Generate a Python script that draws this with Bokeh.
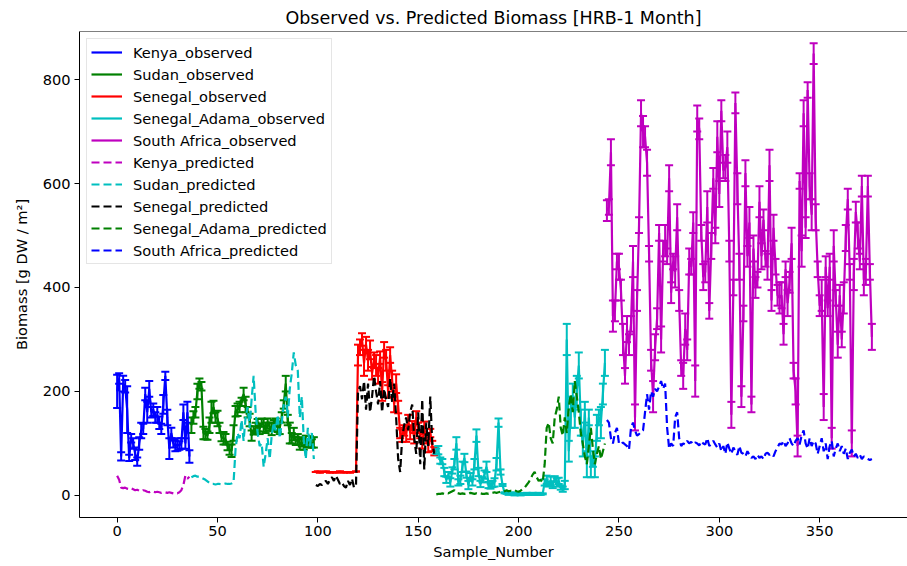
from bokeh.plotting import figure
from bokeh.models import (ColumnDataSource, Whisker, TeeHead, Range1d, FixedTicker,
                          Legend, LegendItem, Span)
from bokeh.embed import file_html
from bokeh.resources import INLINE

# ---------------- data ----------------
title_text = "Observed vs. Predicted Biomass [HRB-1 Month]"
x_label = "Sample_Number"
y_label = "Biomass [g DW / m²]"
x_ticks = [0, 50, 100, 150, 200, 250, 300, 350]
y_ticks = [0, 200, 400, 600, 800]

kenya_start = 0
kenya_obs = [200, 225, 75, 215, 210, 165, 72, 110, 100, 80, 65, 100, 125, 128, 195, 160, 205, 160,
             165, 150, 155, 140, 128, 175, 230, 150, 90, 120, 100, 95, 98, 96, 100, 160, 100, 160, 75]
kenya_err = [32, 10, 8, 15, 12, 45, 6, 8, 10, 12, 8, 12, 15, 10, 12, 20, 15, 10, 12, 10, 15, 12, 10,
             18, 8, 15, 20, 10, 8, 10, 12, 8, 10, 15, 10, 20, 12]
kenya_pred = [38, 30, 15, 14, 15, 13, 12, 14, 12, 10, 11, 9, 8, 10, 9, 7, 6, 8, 7, 6, 7, 6, 5, 6, 6,
              5, 6, 5, 4, 5, 4, 6, 10, 20, 38, 32, 36]

sudan_start = 37
sudan_obs = [135, 150, 160, 200, 215, 210, 120, 118, 115, 135, 160, 170, 150, 148, 130, 112, 110, 108,
             95, 88, 86, 120, 162, 165, 170, 180, 195, 175, 160, 145, 115, 125, 130, 135, 128, 140,
             135, 130, 138, 132, 128, 135, 140, 132, 130, 150, 175, 215, 145, 120, 110, 118, 105,
             108, 100, 102, 98, 105, 100, 104, 100, 102]
sudan_err = [15, 12, 10, 15, 10, 8, 12, 10, 8, 15, 20, 12, 10, 15, 10, 8, 12, 10, 8, 10, 12, 15, 10,
             12, 10, 8, 12, 15, 10, 12, 10, 8, 10, 12, 10, 8, 12, 10, 10, 8, 12, 10, 8, 10, 12, 10,
             8, 15, 10, 20, 10, 12, 8, 10, 12, 8, 10, 10, 8, 10, 8, 10]
sudan_pred = [35, 37, 38, 36, 36, 34, 32, 30, 27, 24, 22, 22, 21, 22, 22, 21, 22, 23, 22, 22, 23, 25,
              90, 120, 110, 145, 105, 150, 170, 130, 185, 230, 160, 120, 95, 100, 55, 80, 110, 70,
              115, 140, 125, 155, 110, 140, 175, 190, 150, 205, 235, 275, 250, 240, 150, 190, 105,
              70, 130, 95, 120, 70]

senegal_start = 99
senegal_obs = [45, 46, 44, 45, 45, 46, 45, 44, 45, 45, 44, 45, 46, 45, 44, 45, 45, 44, 45, 45, 46,
               270, 285, 300, 255, 290, 260, 280, 235, 260, 250, 230, 265, 200, 280, 260, 200, 270,
               220, 175, 215, 170, 120, 115, 125, 118, 145, 120, 135, 110, 150, 130, 118, 100, 130,
               110, 95, 120, 95, 85]
senegal_err = [0, 0, 0, 0, 0, 0, 0, 0, 0, 0, 0, 0, 0, 0, 0, 0, 0, 0, 0, 0, 0,
               20, 15, 12, 25, 15, 20, 18, 12, 15, 20, 15, 12, 18, 15, 20, 12, 15, 20, 15, 18,
               12, 10, 12, 10, 15, 10, 12, 8, 10, 12, 10, 8, 10, 12, 10, 12, 8, 10, 8]
senegal_pred = [20, 18, 22, 20, 25, 28, 22, 30, 35, 28, 38, 30, 22, 25, 18, 15, 28, 20, 32, 15, 20,
                200, 210, 185, 220, 165, 215, 160, 190, 230, 200, 175, 220, 160, 205, 185, 170, 225,
                180, 215, 150, 70, 45, 110, 135, 150, 125, 160, 175, 110, 80, 160, 60, 185, 50, 140,
                95, 190, 100, 80]

adama_start = 159
adama_obs = [85, 87, 67, 65, 45, 30, 40, 25, 48, 60, 100, 25, 30, 55, 72, 40, 20, 38, 25, 60, 115,
             45, 22, 30, 40, 55, 20, 18, 22, 25, 60, 140, 45, 20, 5, 4, 3, 5, 3, 2, 4, 3, 2, 3, 2,
             3, 2, 2, 3, 2, 2, 3, 2, 3, 25, 30, 22, 28, 20, 32, 25, 28, 15, 12, 20, 300, 85, 160,
             190, 150, 200, 250, 140, 95, 160, 60, 150, 55, 70, 55, 130, 150, 140, 195, 255]
adama_err = [5, 8, 6, 5, 8, 6, 5, 8, 6, 10, 12, 6, 8, 10, 8, 6, 8, 5, 6, 10, 12, 8, 6, 5, 8, 10, 6,
             5, 6, 8, 12, 8, 5, 2, 1, 1, 2, 1, 1, 2, 1, 1, 2, 1, 1, 2, 1, 1, 2, 1, 1, 2, 1, 1, 6, 8,
             5, 8, 6, 5, 8, 6, 4, 5, 8, 30, 20, 30, 25, 20, 30, 25, 25, 20, 20, 25, 15, 20, 15, 20,
             25, 15, 30, 20, 25]
adama_pred = [2, 3, 3, 4, 3, 5, 4, 6, 8, 10, 5, 4, 3, 4, 3, 4, 3, 5, 4, 3, 4, 3, 4, 3, 3, 4, 3, 4,
              5, 6, 5, 6, 7, 6, 8, 10, 8, 9, 8, 10, 8, 7, 9, 12, 15, 20, 25, 32, 40, 45, 35, 28, 30,
              25, 60, 130, 140, 110, 100, 150, 165, 190, 130, 115, 150, 120, 170, 195, 160, 220, 190,
              160, 120, 100, 75, 60, 95, 130, 90, 60, 80, 95, 70, 85, 100]

safrica_start = 244
safrica_obs = [548, 555, 660, 345, 355, 450, 440, 395, 300, 230, 320, 290, 330, 450, 150, 375, 520,
               735, 700, 690, 640, 465, 260, 190, 285, 340, 505, 300, 470, 490, 460, 610, 390, 450,
               430, 535, 375, 245, 230, 320, 280, 450, 440, 525, 220, 725, 705, 505, 420, 430, 555,
               355, 480, 610, 500, 690, 580, 740, 625, 630, 670, 470, 155, 400, 755, 590, 440, 190,
               350, 620, 460, 525, 175, 475, 400, 415, 565, 460, 530, 455, 440, 635, 375, 515, 440,
               385, 380, 385, 310, 435, 370, 410, 485, 240, 200, 95, 605, 470, 735, 515, 780, 595,
               540, 850, 535, 435, 365, 385, 170, 440, 360, 440, 110, 480, 380, 290, 385, 300, 380,
               495, 570, 430, 100, 425, 545, 500, 450, 595, 415, 430, 595, 430, 305]
safrica_err = [20, 15, 25, 30, 20, 15, 25, 20, 30, 15, 25, 20, 15, 30, 25, 20, 15, 25, 30, 20,
               25, 15, 20, 30, 25, 20, 15, 25, 20, 30, 15, 25, 20, 15, 30, 25, 20, 15, 25, 30,
               20, 25, 15, 20, 30, 25, 20, 15, 25, 20, 30, 15, 25, 20, 15, 30, 25, 20, 15, 25,
               30, 20, 25, 15, 20, 30, 25, 20, 15, 25, 20, 30, 15, 25, 20, 15, 30, 25, 20, 15,
               25, 30, 20, 25, 15, 20, 30, 25, 20, 15, 25, 20, 30, 15, 25, 20, 15, 30, 25, 20,
               15, 25, 30, 20, 25, 15, 20, 30, 25, 20, 15, 25, 20, 30, 15, 25, 20, 15, 30, 25,
               20, 15, 25, 30, 20, 25, 15, 20, 30, 25, 20, 15, 25]
safrica_pred = [145, 140, 110, 100, 120, 130, 100, 98, 102, 98, 95, 88, 130, 140, 125, 115, 118, 122,
                125, 160, 195, 165, 200, 190, 205, 200, 210, 220, 205, 215, 130, 90, 100, 95, 150,
                160, 110, 95, 100, 98, 105, 100, 103, 98, 102, 100, 96, 104, 100, 98, 110, 95, 100,
                105, 98, 92, 100, 85, 95, 80, 102, 90, 80, 92, 85, 78, 95, 82, 80, 75, 85, 78, 72,
                75, 70, 78, 72, 75, 70, 80, 82, 78, 80, 75, 85, 92, 100, 98, 105, 95, 100, 110, 100,
                95, 105, 110, 98, 115, 125, 100, 90, 110, 95, 105, 100, 80, 95, 110, 85, 100, 70, 95,
                105, 75, 90, 100, 85, 95, 80, 90, 70, 82, 88, 75, 80, 72, 78, 70, 75, 72, 70, 68, 70]

names = ["Kenya", "Sudan", "Senegal", "Senegal_Adama", "South Africa"]
starts = [kenya_start, sudan_start, senegal_start, adama_start, safrica_start]
observed = [kenya_obs, sudan_obs, senegal_obs, adama_obs, safrica_obs]
errors = [kenya_err, sudan_err, senegal_err, adama_err, safrica_err]
predicted = [kenya_pred, sudan_pred, senegal_pred, adama_pred, safrica_pred]
obs_colors = ["#0000FF", "#008000", "#FF0000", "#00BFBF", "#BF00BF"]
pred_colors = ["#BF00BF", "#00BFBF", "#000000", "#008000", "#0000FF"]

# ---------------- figure ----------------
FONT = "DejaVu Sans"
p = figure(width=907, height=566, output_backend="svg", toolbar_location=None,
           x_range=Range1d(-18.75, 393.75), y_range=Range1d(-42.5, 892.5),
           min_border_left=79, min_border_right=0, min_border_top=31, min_border_bottom=49)
p.title.text = title_text
p.title.text_font = FONT
p.title.text_font_size = "17.5px"
p.title.text_font_style = "normal"
p.title.text_color = "black"
p.title.align = "center"
p.title.standoff = 7
p.grid.visible = False
p.outline_line_color = None
p.background_fill_color = "white"
p.border_fill_color = "white"

for ax in (p.xaxis[0], p.yaxis[0]):
    ax.axis_line_color = "black"
    ax.axis_line_width = 1
    ax.major_tick_out = 5
    ax.major_tick_in = 0
    ax.minor_tick_out = 0
    ax.minor_tick_in = 0
    ax.major_label_text_font = FONT
    ax.major_label_text_font_size = "14.6px"
    ax.major_label_text_color = "black"
    ax.axis_label_text_font = FONT
    ax.axis_label_text_font_size = "14.6px"
    ax.axis_label_text_font_style = "normal"
    ax.axis_label_text_color = "black"
p.xaxis[0].ticker = FixedTicker(ticks=x_ticks)
p.yaxis[0].ticker = FixedTicker(ticks=y_ticks)
p.xaxis[0].axis_label = x_label
p.yaxis[0].axis_label = y_label
p.xaxis[0].major_label_standoff = 3
p.xaxis[0].axis_label_standoff = 4
p.yaxis[0].major_label_standoff = 4
p.yaxis[0].axis_label_standoff = 10

top_line = Span(location=892.5, dimension="width", line_color="black", line_width=1)
p.add_layout(top_line)

obs_items = []
pred_items = []
for name, start, obs, err, color in zip(names, starts, observed, errors, obs_colors):
    xs = list(range(start, start + len(obs)))
    up = [o + e for o, e in zip(obs, err)]
    lo = [o - e for o, e in zip(obs, err)]
    src = ColumnDataSource(dict(x=xs, y=obs, upper=up, lower=lo))
    w = Whisker(source=src, base="x", upper="upper", lower="lower",
                line_color=color, line_width=2,
                upper_head=TeeHead(size=8, line_color=color, line_width=2),
                lower_head=TeeHead(size=8, line_color=color, line_width=2))
    p.add_layout(w)
    r = p.line("x", "y", source=src, line_color=color, line_width=2.2)
    obs_items.append(LegendItem(label=name + "_observed", renderers=[r]))

for name, start, pred, color in zip(names, starts, predicted, pred_colors):
    xs = list(range(start, start + len(pred)))
    src = ColumnDataSource(dict(x=xs, y=pred))
    r = p.line("x", "y", source=src, line_color=color, line_width=2.2, line_dash="8 4")
    pred_items.append(LegendItem(label=name + "_predicted", renderers=[r]))

legend = Legend(items=obs_items + pred_items, location="top_left")
legend.label_text_font = FONT
legend.label_text_font_size = "14.6px"
legend.label_text_color = "black"
legend.glyph_width = 31
legend.glyph_height = 18
legend.label_height = 18
legend.spacing = 4
legend.padding = 4
legend.margin = 7
legend.label_standoff = 11
legend.border_line_color = "#cccccc"
legend.border_line_width = 1
legend.background_fill_color = "white"
legend.background_fill_alpha = 0.8
p.add_layout(legend)

open("out.html", "w").write(file_html(p, INLINE))
